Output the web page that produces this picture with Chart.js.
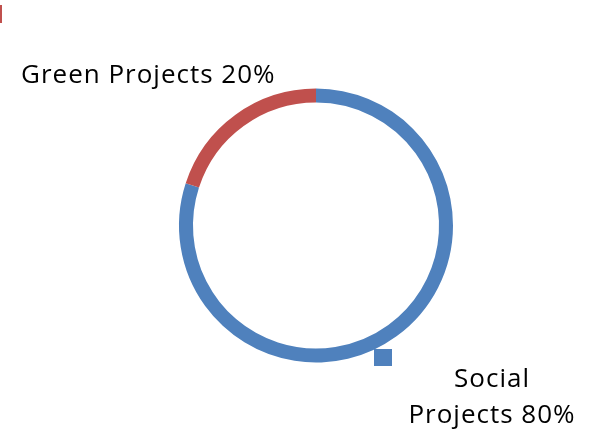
<!DOCTYPE html>
<html>
<head>
<meta charset="utf-8">
<script src="https://cdn.jsdelivr.net/npm/chart.js@4"></script>
<style>
    html, body { margin: 0; padding: 0; background: #ffffff; }
    #wrap { position: relative; width: 596px; height: 435px; }
</style>
</head>
<body>
<div id="wrap"><canvas id="project-chart"></canvas></div>
<script>
// chart data
const categories = ['Social Projects', 'Green Projects'];
const shares = [80, 20];
const slice_colors = ['#4f81bd', '#c0504d'];

/**
 * Draw the data labels and the small key marks next to the ring
 */
const label_plugin = {
    id: 'label_plugin',
    afterDraw(chart) {
        const ctx = chart.ctx;
        const font = '26px "Open Sans", "Liberation Sans", sans-serif';

        ctx.save();

        // key marks left over from the original legend
        ctx.fillStyle = slice_colors[1];
        ctx.fillRect(0, 5, 2, 18);
        ctx.fillStyle = slice_colors[0];
        ctx.fillRect(374, 349, 18, 17);

        ctx.fillStyle = '#000000';
        ctx.font = font;
        ctx.letterSpacing = '1px';
        ctx.textBaseline = 'alphabetic';

        // green projects label, one line
        ctx.textAlign = 'left';
        ctx.fillText(categories[1] + ' ' + shares[1] + '%', 21, 83);

        // social projects label, wrapped on two lines
        let words = categories[0].split(' ');
        ctx.textAlign = 'center';
        ctx.fillText(words[0], 492, 387);
        ctx.fillText(words[1] + ' ' + shares[0] + '%', 492, 423);

        ctx.restore();
    }
};

new Chart(document.getElementById('project-chart').getContext('2d'), {
    type: 'doughnut',
    data: {
        labels: categories,
        datasets: [{
            data: shares,
            backgroundColor: slice_colors,
            borderWidth: 0,
        }]
    },
    options: {
        responsive: true,
        maintainAspectRatio: false,
        animation: false,
        cutout: '89.8%',
        layout: {
            padding: { top: 88, bottom: 72, left: 179, right: 143 }
        },
        plugins: {
            legend: { display: false },
            tooltip: { enabled: false }
        }
    },
    plugins: [label_plugin]
});
</script>
</body>
</html>
